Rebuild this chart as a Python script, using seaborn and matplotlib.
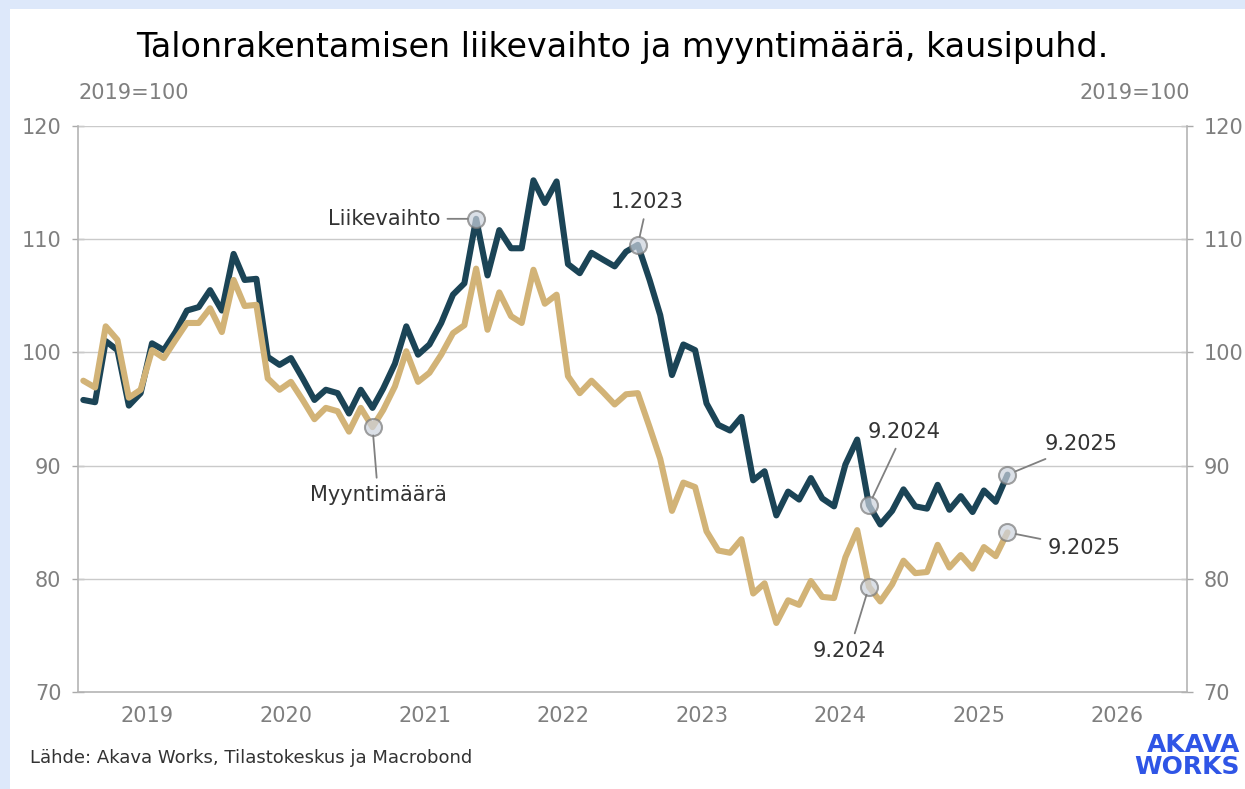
import matplotlib
matplotlib.use("Agg")
import matplotlib.pyplot as plt
from matplotlib.patches import Rectangle
import numpy as np
import pandas as pd
import seaborn as sns

# monthly, 1.2019 - 9.2025, 2019=100
liikevaihto = [
    95.8, 95.6, 101.0, 100.2, 95.3, 96.4, 100.8, 100.2, 101.8, 103.7, 104.0, 105.5,
    103.7, 108.7, 106.4, 106.5, 99.6, 98.9, 99.5, 97.7, 95.8, 96.7, 96.4, 94.6,
    96.7, 95.1, 96.8, 99.0, 102.3, 99.8, 100.7, 102.6, 105.1, 106.1, 111.8, 106.8,
    110.8, 109.2, 109.2, 115.2, 113.2, 115.1, 107.8, 107.0, 108.8, 108.2, 107.6, 108.9,
    109.5, 106.4, 103.3, 98.0, 100.7, 100.2, 95.5, 93.6, 93.1, 94.3, 88.7, 89.5,
    85.6, 87.7, 87.0, 88.9, 87.1, 86.4, 90.1, 92.3, 86.5, 84.8, 86.0, 87.9,
    86.4, 86.2, 88.3, 86.1, 87.3, 85.9, 87.8, 86.8, 89.2,
]
myyntimaara = [
    97.5, 96.9, 102.3, 101.1, 96.0, 96.7, 100.2, 99.5, 101.1, 102.6, 102.6, 103.9,
    101.8, 106.4, 104.1, 104.2, 97.7, 96.7, 97.4, 95.8, 94.1, 95.1, 94.8, 93.0,
    95.1, 93.4, 94.9, 97.0, 100.1, 97.4, 98.2, 99.8, 101.7, 102.4, 107.4, 102.0,
    105.3, 103.2, 102.6, 107.3, 104.3, 105.1, 97.9, 96.4, 97.5, 96.5, 95.4, 96.3,
    96.4, 93.4, 90.6, 86.0, 88.5, 88.1, 84.2, 82.5, 82.3, 83.5, 78.7, 79.6,
    76.1, 78.1, 77.7, 79.8, 78.4, 78.3, 81.9, 84.3, 79.3, 78.0, 79.5, 81.6,
    80.5, 80.6, 83.0, 81.0, 82.1, 80.9, 82.8, 82.0, 84.1,
]
dates = pd.date_range("2019-01-01", periods=len(liikevaihto), freq="MS") + pd.Timedelta(days=14)
years = list(range(2019, 2027))
y_ticks = [70, 80, 90, 100, 110, 120]

series_names = ["Liikevaihto", "Myyntimäärä"]
colors = {"Liikevaihto": "#1b4456", "Myyntimäärä": "#d2b377"}

df = pd.DataFrame({
    "date": list(dates) * 2,
    "value": liikevaihto + myyntimaara,
    "series": [series_names[0]] * len(dates) + [series_names[1]] * len(dates),
})

sns.set_theme(style="white")
plt.rcParams["font.family"] = ["DejaVu Sans"]

fig = plt.figure(figsize=(12.45, 7.89), dpi=100)
fig.patch.set_facecolor("#dde8fa")
# white panel inside the light blue frame
fig.patches.append(Rectangle((10 / 1245, 0), 1, 1 - 9 / 789, transform=fig.transFigure,
                             facecolor="white", edgecolor="none", zorder=-10))

ax = fig.add_axes([78 / 1245, 1 - 692 / 789, (1187 - 78) / 1245, (692 - 126) / 789])
ax.set_facecolor("white")

sns.lineplot(data=df, x="date", y="value", hue="series", palette=colors,
             linewidth=4.4, legend=False, ax=ax, zorder=3)

ax.set_xlim(pd.Timestamp("2019-01-01"), pd.Timestamp("2027-01-01"))
ax.set_ylim(70, 120)
ax.set_yticks(y_ticks)
ax.set_xlabel("")
ax.set_ylabel("")

for v in y_ticks[1:]:
    ax.axhline(v, color="#cacaca", lw=1.0, zorder=1)

# year boundaries as ticks, labels in the middle of the year
ax.set_xticks([pd.Timestamp(f"{y}-01-01") for y in years] + [pd.Timestamp("2027-01-01")])
ax.set_xticklabels([])
ax.set_xticks([pd.Timestamp(f"{y}-07-02") for y in years], minor=True)
ax.set_xticklabels([str(y) for y in years], minor=True)
ax.tick_params(axis="x", which="major", direction="inout", length=8, color="#aaaaaa", width=1)
ax.tick_params(axis="x", which="minor", length=0, labelsize=15, labelcolor="#7f7f7f", pad=10)
ax.tick_params(axis="y", direction="inout", length=8, color="#aaaaaa", width=1,
               labelsize=15, labelcolor="#7f7f7f", left=True, right=True,
               labelleft=True, labelright=True, pad=8)

for s in ["left", "right", "bottom"]:
    ax.spines[s].set_color("#b4b4b4")
    ax.spines[s].set_linewidth(1.2)
ax.spines["top"].set_visible(False)

# marked points
marks = [
    (liikevaihto, 34, "Liikevaihto", (-26, 0), "right"),
    (myyntimaara, 25, "Myyntimäärä", (4, -49), "center"),
    (liikevaihto, 48, "1.2023", (7, 31), "center"),
    (liikevaihto, 68, "9.2024", (25, 53), "center"),
    (myyntimaara, 68, "9.2024", (-14, -46), "center"),
    (liikevaihto, 80, "9.2025", (27, 22), "left"),
    (myyntimaara, 80, "9.2025", (29, -11), "left"),
]
for vals, i, label, off, ha in marks:
    ax.scatter([dates[i]], [vals[i]], s=150, facecolor="#cdd3de", edgecolor="#7a7a7a",
               linewidth=1.5, alpha=0.7, zorder=5)
    ax.annotate(label, xy=(dates[i], vals[i]), xytext=off, textcoords="offset points",
                ha=ha, va="center", fontsize=15, color="#333333",
                arrowprops=dict(arrowstyle="-", color="#808080", lw=1.3,
                                shrinkA=3, shrinkB=6),
                zorder=6)

fig.text(0.5, 1 - 48 / 789, "Talonrakentamisen liikevaihto ja myyntimäärä, kausipuhd.",
         ha="center", va="center", fontsize=24, color="black")
fig.text(78 / 1245, 1 - 93 / 789, "2019=100", ha="left", va="center",
         fontsize=15, color="#7f7f7f")
fig.text(1190 / 1245, 1 - 93 / 789, "2019=100", ha="right", va="center",
         fontsize=15, color="#7f7f7f")
fig.text(30 / 1245, 1 - 758 / 789, "Lähde: Akava Works, Tilastokeskus ja Macrobond",
         ha="left", va="center", fontsize=13, color="#333333")
fig.text(1240 / 1245, 1 - 745 / 789, "AKAVA", ha="right", va="center",
         fontsize=18, fontweight="bold", color="#2f55e6")
fig.text(1240 / 1245, 1 - 767 / 789, "WORKS", ha="right", va="center",
         fontsize=18, fontweight="bold", color="#2f55e6")

fig.savefig("out.png", dpi=100)
